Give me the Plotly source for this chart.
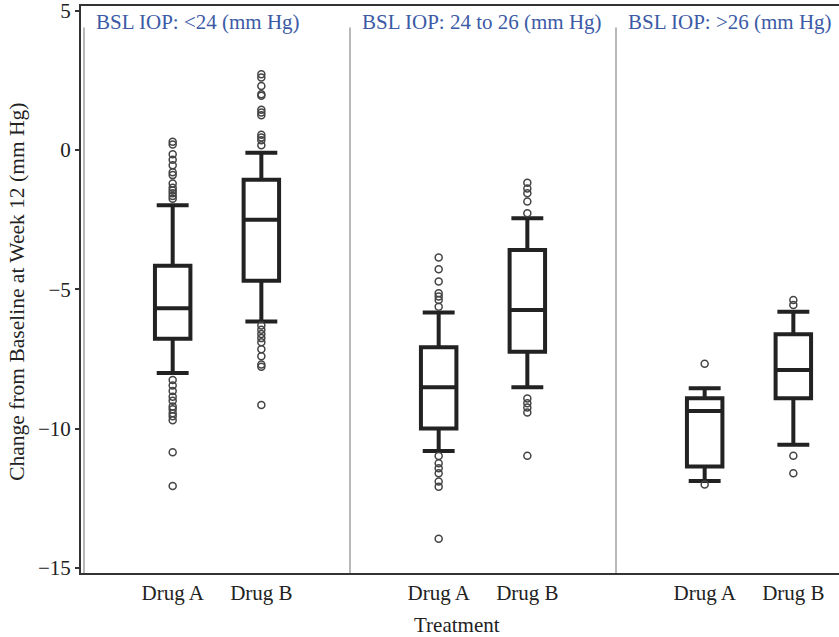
import plotly.graph_objects as go

panels = ["BSL IOP: <24 (mm Hg)", "BSL IOP: 24 to 26 (mm Hg)", "BSL IOP: >26 (mm Hg)"]
drugs = ["Drug A", "Drug B"]

# box statistics, order: (<24 A, <24 B, 24-26 A, 24-26 B, >26 A, >26 B)
q1 = [-6.77, -4.69, -9.99, -7.24, -11.36, -8.91]
median = [-5.68, -2.50, -8.51, -5.74, -9.37, -7.89]
q3 = [-4.15, -1.07, -7.08, -3.59, -8.91, -6.61]
lowerfence = [-8.0, -6.15, -10.8, -8.51, -11.88, -10.58]
upperfence = [-1.98, -0.1, -5.83, -2.45, -8.55, -5.8]

outliers = [
    [0.3, 0.2, -0.15, -0.35, -0.55, -0.8, -0.9, -1.2, -1.35, -1.45, -1.55, -1.65, -1.75,
     -8.25, -8.45, -8.65, -8.85, -9.0, -9.2, -9.3, -9.45, -9.55, -9.7, -10.85, -12.06],
    [2.72, 2.6, 2.3, 2.0, 1.95, 1.45, 1.35, 1.25, 0.55, 0.45, 0.35, 0.17,
     -6.3, -6.45, -6.6, -6.75, -6.9, -7.15, -7.4, -7.7, -7.78, -9.15],
    [-3.86, -4.28, -4.72, -5.14, -5.26, -5.38, -5.62,
     -10.98, -11.24, -11.42, -11.6, -11.9, -12.08, -13.95],
    [-1.17, -1.38, -1.55, -1.85, -2.27,
     -8.92, -9.09, -9.24, -9.42, -10.97],
    [-7.67, -12.0],
    [-5.38, -5.56, -10.97, -11.6],
]

positions = [3 * i + j for i in range(len(panels)) for j in range(len(drugs))]
ticktext = [d for _ in panels for d in drugs]

FONT = "Liberation Serif"
DARK = "#222222"

fig = go.Figure()

fig.add_trace(go.Box(
    x=positions, q1=q1, median=median, q3=q3,
    lowerfence=lowerfence, upperfence=upperfence,
    boxpoints=False, width=0.4, whiskerwidth=0.9,
    line=dict(color=DARK, width=4), fillcolor="white",
    showlegend=False, hoverinfo="skip",
))

ox, oy = [], []
for p, vals in zip(positions, outliers):
    ox += [p] * len(vals)
    oy += vals
fig.add_trace(go.Scatter(
    x=ox, y=oy, mode="markers",
    marker=dict(symbol="circle-open", size=7, color="#444444", line=dict(width=1.5)),
    showlegend=False, hoverinfo="skip",
))

YMIN, YMAX = -15.18, 5.17
shapes = []
for i in range(len(panels)):
    shapes.append(dict(type="line", xref="x", yref="y", x0=3 * i - 1, x1=3 * i - 1,
                       y0=YMIN, y1=4.4, line=dict(color="#b8b8b8", width=2), layer="below"))

annotations = []
for i, t in enumerate(panels):
    annotations.append(dict(text=t, xref="x", yref="y", x=3 * i - 1 + 0.11, y=4.6,
                            xanchor="left", yanchor="middle", showarrow=False,
                            font=dict(family=FONT, size=21, color="#3c5aa6")))
annotations.append(dict(text="Change from Baseline at Week 12 (mm Hg)", xref="paper", yref="paper",
                        x=-0.0844, y=0.496, textangle=-90, xanchor="center", yanchor="middle",
                        showarrow=False, font=dict(family=FONT, size=21.5, color=DARK)))
annotations.append(dict(text="Treatment", xref="paper", yref="paper", x=0.496, y=-0.092,
                        xanchor="center", yanchor="middle", showarrow=False,
                        font=dict(family=FONT, size=21, color=DARK)))

fig.update_layout(
    width=839, height=637,
    margin=dict(l=81, r=0, t=6, b=64),
    plot_bgcolor="white", paper_bgcolor="white",
    shapes=shapes, annotations=annotations,
    xaxis=dict(range=[-1.034, 7.515], tickvals=positions, ticktext=ticktext,
               showgrid=False, zeroline=False, showline=True, linecolor="#333333",
               linewidth=2, mirror=True, ticks="",
               tickfont=dict(family=FONT, size=21, color=DARK)),
    yaxis=dict(range=[YMIN, YMAX], tickvals=[-15, -10, -5, 0, 5],
               showgrid=False, zeroline=False, showline=True, linecolor="#333333",
               linewidth=2, ticks="outside", ticklen=4, tickwidth=2, tickcolor="#333333",
               ticklabeloverflow="allow",
               tickfont=dict(family=FONT, size=21, color=DARK)),
)

fig.write_html("out.html")
